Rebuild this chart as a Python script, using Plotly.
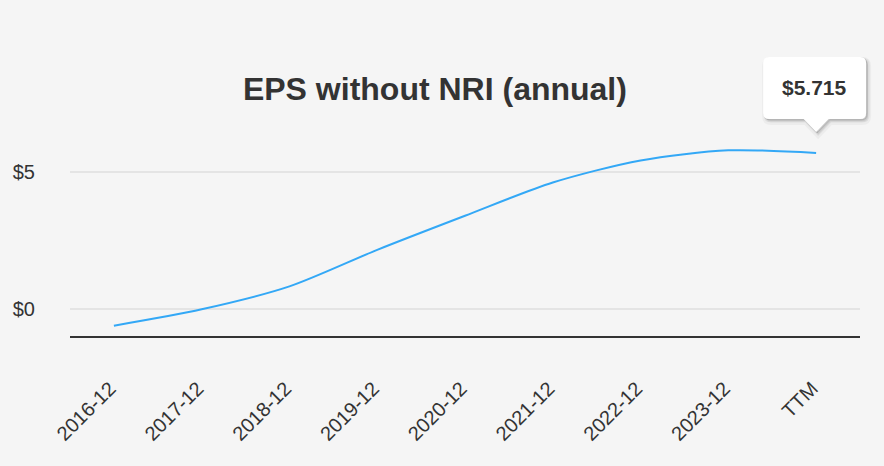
import plotly.graph_objects as go

categories = ["2016-12", "2017-12", "2018-12", "2019-12", "2020-12",
              "2021-12", "2022-12", "2023-12", "TTM"]
eps_values = [-0.62, -0.02, 0.82, 2.16, 3.41, 4.63, 5.44, 5.81, 5.715]
y_tick_vals = [0, 5]
y_tick_text = ["$0", "$5"]
title_text = "EPS without NRI (annual)"
last_label = "$5.715"

BG = "#f5f5f5"
FONT = "Liberation Sans, Arial, sans-serif"


def callout_path(left, right, top, bottom, r, pw, tip, dx=0, dy=0):
    L, R, T, B = left + dx, right + dx, top + dy, bottom + dy
    return (f"M {L + r},{T} L {R - r},{T} Q {R},{T} {R},{T - r} "
            f"L {R},{B + r} Q {R},{B} {R - r},{B} "
            f"L {dx + pw},{B} L {dx},{tip + dy} L {dx - pw},{B} "
            f"L {L + r},{B} Q {L},{B} {L},{B + r} "
            f"L {L},{T - r} Q {L},{T} {L + r},{T} Z")


fig = go.Figure()
fig.add_trace(go.Scatter(
    x=categories, y=eps_values, mode="lines",
    line=dict(color="#33a8f6", width=2, shape="spline", smoothing=0.8),
    hoverinfo="skip", showlegend=False,
))

# x position of the last category as a fraction of the plot width
n = len(categories)
last_frac = (n - 1 + 0.5) / n

box = dict(left=-53, right=50, top=96, bottom=34, r=6, pw=12.5, tip=21)
for (dx, dy, w, a) in [(2, -3, 6, 0.035), (2, -2, 3, 0.06), (1, -1, 1, 0.08)]:
    fig.add_shape(
        type="path", xref="paper", yref="y",
        xsizemode="pixel", ysizemode="pixel",
        xanchor=last_frac, yanchor=eps_values[-1],
        path=callout_path(dx=dx, dy=dy, **box),
        fillcolor=f"rgba(0,0,0,{a})",
        line=dict(width=w, color=f"rgba(0,0,0,{a})"), layer="above",
    )
fig.add_shape(
    type="path", xref="paper", yref="y",
    xsizemode="pixel", ysizemode="pixel",
    xanchor=last_frac, yanchor=eps_values[-1],
    path=callout_path(**box),
    fillcolor="white", line=dict(width=0), layer="above",
)
fig.add_annotation(
    x=categories[-1], y=eps_values[-1], xref="x", yref="y",
    text="<b>" + last_label + "</b>", showarrow=False,
    font=dict(family=FONT, size=21, color="#333333"),
    xshift=(box["left"] + box["right"]) / 2,
    yshift=(box["top"] + box["bottom"]) / 2,
)

px_per_unit = (309 - 172.7) / 5
top_margin = 20
y_top = -1 + (336 - top_margin) / px_per_unit

fig.update_layout(
    width=884, height=466,
    paper_bgcolor=BG, plot_bgcolor=BG,
    margin=dict(l=70, r=24, t=top_margin, b=130),
    title=dict(text="<b>" + title_text + "</b>", x=0.492, xanchor="center",
               y=1 - 89 / 466, yanchor="middle",
               font=dict(family=FONT, size=32, color="#333333")),
    font=dict(family=FONT, color="#333333"),
    xaxis=dict(
        type="category", categoryorder="array", categoryarray=categories,
        range=[-0.5, n - 0.5],
        showgrid=False, zeroline=False,
        showline=True, linecolor="#333333", linewidth=2,
        tickangle=-45, tickfont=dict(family=FONT, size=20, color="#333333"),
        ticks="", ticklabelstandoff=27, ticksuffix="\u00a0",
    ),
    yaxis=dict(
        range=[-1, y_top], tickvals=y_tick_vals, ticktext=y_tick_text,
        showgrid=True, gridcolor="#e4e4e4", gridwidth=2,
        zeroline=False, showline=False, ticks="",
        tickfont=dict(family=FONT, size=20, color="#333333"),
        ticklabelstandoff=34,
    ),
)

fig.write_html("out.html", config={"displayModeBar": False},
               post_script="document.body.style.margin='0';")
